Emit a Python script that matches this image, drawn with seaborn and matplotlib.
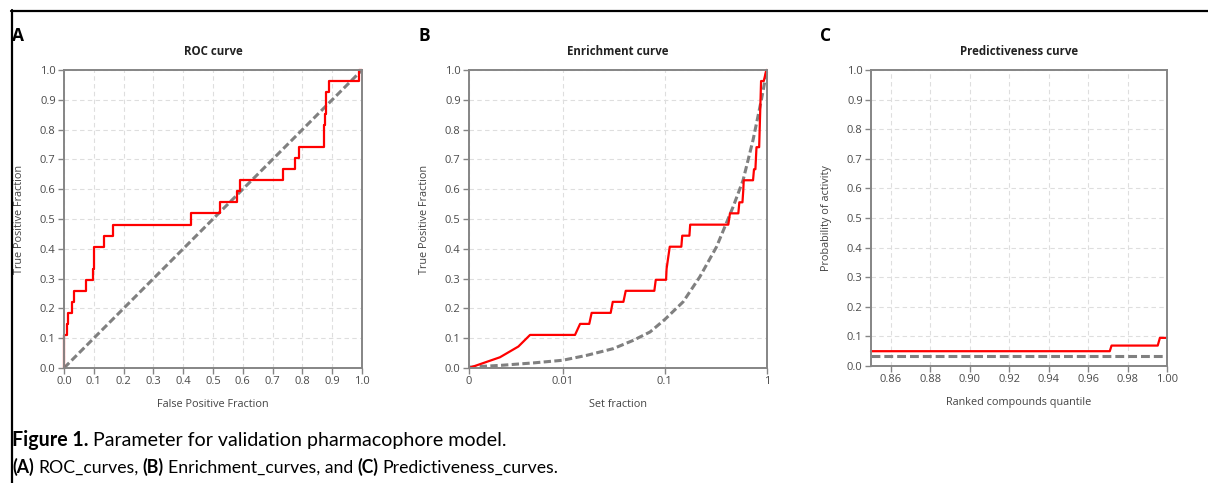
import matplotlib
matplotlib.use("Agg")
import matplotlib.pyplot as plt
from matplotlib.lines import Line2D
from matplotlib.ticker import NullLocator, FixedLocator, FixedFormatter
import seaborn as sns
import pandas as pd

# ---------------- data ----------------
roc_fpf = [0, 0, 0.009, 0.009, 0.015, 0.015, 0.026, 0.026, 0.034, 0.034,
           0.074, 0.074, 0.098, 0.098, 0.101, 0.101, 0.135, 0.135, 0.166, 0.166,
           0.426, 0.426, 0.523, 0.523, 0.579, 0.579, 0.590, 0.590, 0.736, 0.736,
           0.776, 0.776, 0.787, 0.787, 0.873, 0.873, 0.877, 0.877, 0.880, 0.880,
           0.890, 0.890, 0.990, 0.990, 1.0]
roc_tpf = [0, 0.111, 0.111, 0.148, 0.148, 0.185, 0.185, 0.222, 0.222, 0.259,
           0.259, 0.296, 0.296, 0.333, 0.333, 0.407, 0.407, 0.444, 0.444, 0.481,
           0.481, 0.519, 0.519, 0.556, 0.556, 0.593, 0.593, 0.630, 0.630, 0.667,
           0.667, 0.704, 0.704, 0.741, 0.741, 0.815, 0.815, 0.852, 0.852, 0.926,
           0.926, 0.963, 0.963, 1.0, 1.0]
roc_random = [0.0, 1.0]

enr_frac = [0.00121, 0.00243, 0.00368, 0.00479, 0.0132, 0.0148, 0.0182, 0.0192,
            0.0295, 0.0309, 0.0393, 0.0414, 0.0789, 0.0815, 0.1028, 0.1040,
            0.1117, 0.145, 0.148, 0.174, 0.177, 0.418, 0.434, 0.524, 0.536,
            0.575, 0.585, 0.592, 0.730, 0.746, 0.770, 0.789, 0.838, 0.875,
            0.930, 0.985, 1.0]
enr_tpf = [0, 0.036, 0.072, 0.111, 0.111, 0.148, 0.148, 0.185, 0.185, 0.222,
           0.222, 0.259, 0.259, 0.296, 0.296, 0.333, 0.407, 0.407, 0.444, 0.444,
           0.481, 0.481, 0.519, 0.519, 0.556, 0.556, 0.593, 0.630, 0.630, 0.667,
           0.667, 0.741, 0.741, 0.963, 0.963, 1.0, 1.0]
enr_rand_frac = [0.00121, 0.0025, 0.00513, 0.01, 0.0172, 0.0313, 0.0492, 0.0717,
                 0.1, 0.151, 0.22, 0.32, 0.466, 0.583, 0.73, 0.88, 1.0]
enr_rand_tpf = [0.003, 0.009, 0.017, 0.026, 0.0425, 0.065, 0.093, 0.121,
                0.163, 0.222, 0.306, 0.406, 0.541, 0.630, 0.765, 0.899, 1.0]

pred_quantile = [0.85, 0.971, 0.9719, 0.9953, 0.9964, 1.0]
pred_prob = [0.050, 0.050, 0.069, 0.069, 0.095, 0.095]
pred_base_q = [0.85, 1.0]
pred_base_p = [0.033, 0.033]

unit_ticks = [0.0, 0.1, 0.2, 0.3, 0.4, 0.5, 0.6, 0.7, 0.8, 0.9, 1.0]
unit_labels = ["0.0", "0.1", "0.2", "0.3", "0.4", "0.5", "0.6", "0.7", "0.8", "0.9", "1.0"]
enr_ticks = [0.00121, 0.01, 0.1, 1.0]
enr_labels = ["0", "0.01", "0.1", "1"]
pred_ticks = [0.86, 0.88, 0.90, 0.92, 0.94, 0.96, 0.98, 1.00]
pred_labels = ["0.86", "0.88", "0.90", "0.92", "0.94", "0.96", "0.98", "1.00"]

# ---------------- styling ----------------
sns.set_theme(style="whitegrid")
plt.rcParams['font.family'] = ['Open Sans', 'DejaVu Sans']

W, H = 1208, 483
fig = plt.figure(figsize=(W / 100, H / 100), dpi=100)
fig.patch.set_facecolor('white')

RED = '#ff0000'
GRAY = '#808080'


def ax_at(l, t, r, b):
    return fig.add_axes([l / W, 1 - b / H, (r - l) / W, (b - t) / H])


def style(ax):
    ax.set_facecolor('white')
    for s in ax.spines.values():
        s.set_color('#858585')
        s.set_linewidth(1.4)
    ax.grid(True, color='#dedede', linestyle=(0, (4, 3)), linewidth=0.8)
    ax.tick_params(axis='both', which='major', length=4, width=1, color='#858585',
                   labelsize=8, labelcolor='#4a4a4a', pad=2, direction='out',
                   left=True, bottom=True)
    ax.tick_params(axis='both', which='minor', length=0)


def labels(ax, title, xl, yl):
    ax.set_title(title, fontsize=8.3, fontweight='bold', color='#222222', pad=10.5)
    ax.set_xlabel(xl, fontsize=7.8, color='#444444', labelpad=8.5)
    ax.set_ylabel(yl, fontsize=7.8, color='#444444', labelpad=11)


dash_kw = dict(color=GRAY, linewidth=2.2, linestyle=(0, (2.4, 1.1)))
red_kw = dict(color=RED, linewidth=1.6)

# ---- Panel A : ROC ----
axA = ax_at(64, 70, 362, 368)
sns.lineplot(x=roc_random, y=roc_random, sort=False, estimator=None, ax=axA, **dash_kw)
sns.lineplot(x=roc_fpf, y=roc_tpf, sort=False, estimator=None, ax=axA, **red_kw)
axA.set_xlim(0, 1)
axA.set_ylim(0, 1)
axA.set_xticks(unit_ticks, unit_labels)
axA.set_yticks(unit_ticks, unit_labels)
style(axA)
labels(axA, "ROC curve", "False Positive Fraction", "True Positive Fraction")

# ---- Panel B : Enrichment ----
axB = ax_at(469, 70, 767, 368)
axB.set_xscale('log')
sns.lineplot(x=enr_rand_frac, y=enr_rand_tpf, sort=False, estimator=None, ax=axB, **dash_kw)
sns.lineplot(x=enr_frac, y=enr_tpf, sort=False, estimator=None, ax=axB, **red_kw)
axB.set_xlim(enr_ticks[0], 1.0)
axB.set_ylim(0, 1)
axB.xaxis.set_major_locator(FixedLocator(enr_ticks))
axB.xaxis.set_major_formatter(FixedFormatter(enr_labels))
axB.xaxis.set_minor_locator(NullLocator())
axB.set_yticks(unit_ticks, unit_labels)
style(axB)
labels(axB, "Enrichment curve", "Set fraction", "True Positive Fraction")

# ---- Panel C : Predictiveness ----
axC = ax_at(871, 70, 1167, 366)
sns.lineplot(x=pred_base_q, y=pred_base_p, sort=False, estimator=None, ax=axC,
             color=GRAY, linewidth=2.2, linestyle=(0, (2.9, 1.3)))
sns.lineplot(x=pred_quantile, y=pred_prob, sort=False, estimator=None, ax=axC, **red_kw)
axC.set_xlim(0.85, 1.0)
axC.set_ylim(0, 1)
axC.set_xticks(pred_ticks, pred_labels)
axC.set_yticks(unit_ticks, unit_labels)
style(axC)
labels(axC, "Predictiveness curve", "Ranked compounds quantile", "Probability of activity")

for ax in (axA, axB, axC):
    for ln in ax.lines:
        ln.set_clip_on(False)
    if ax.get_legend() is not None:
        ax.get_legend().remove()

# ---- panel letters ----
for lx, letter in ((12, "A"), (418, "B"), (820, "C")):
    fig.text(lx / W, 1 - 41 / H, letter, fontsize=12.5, fontweight='bold',
             color='black', va='baseline', ha='left')

# ---- frame lines ----
fig.add_artist(Line2D([11 / W, 1.0], [1 - 10.5 / H, 1 - 10.5 / H],
                      transform=fig.transFigure, color='black', linewidth=1.6))
fig.add_artist(Line2D([11.5 / W, 11.5 / W], [0.0, 1 - 10 / H],
                      transform=fig.transFigure, color='black', linewidth=1.6))

# ---- caption ----
renderer = fig.canvas.get_renderer()
CAP_FAMILY = ['Lato', 'DejaVu Sans']


def place_runs(runs, x0, baseline, target_w, base_size):
    def build(size):
        arts = []
        x = x0
        gap = 0.24 * size * 100 / 72
        for i, (txt, bold) in enumerate(runs):
            t = fig.text(x / W, 1 - baseline / H, txt, fontsize=size,
                         fontweight='bold' if bold else 'normal', family=CAP_FAMILY,
                         color='black', va='baseline', ha='left')
            bb = t.get_window_extent(renderer)
            x += bb.width
            if i < len(runs) - 1:
                x += gap
            arts.append(t)
        return arts, x - x0
    arts, w = build(base_size)
    for a in arts:
        a.remove()
    size = base_size * target_w / w
    build(size)


place_runs([("Figure 1.", True),
            ("Parameter for validation pharmacophore model.", False)],
           12, 446, 496, 14)
place_runs([("(A)", True), ("ROC_curves,", False), ("(B)", True),
            ("Enrichment_curves, and", False), ("(C)", True),
            ("Predictiveness_curves.", False)],
           12, 473, 546, 11)

fig.savefig("out.png", dpi=100, facecolor='white')
